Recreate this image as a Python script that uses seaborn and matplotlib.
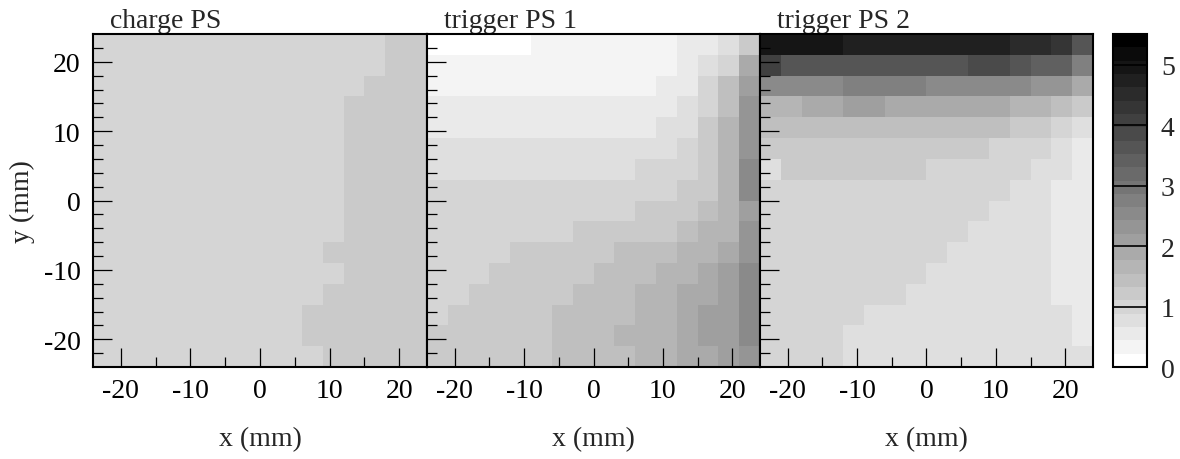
import numpy as np
import pandas as pd
import matplotlib
matplotlib.use("Agg")
import matplotlib.pyplot as plt
from matplotlib.colors import ListedColormap, BoundaryNorm
import seaborn as sns

# ---------------- data ----------------
# bin edges (mm); rows are listed from the top (y = 24) to the bottom (y = -24)
x_edges = [-24, -21, -18, -15, -12, -9, -6, -3, 0, 3, 6, 9, 12, 15, 18, 21, 24]
y_edges = [24, 21, 18, 15, 12, 9, 6, 3, 0, -3, -6, -9, -12, -15, -18, -21, -24]

titles = ["charge PS", "trigger PS 1", "trigger PS 2"]

charge_ps = [
    [1.0, 1.0, 1.0, 1.0, 1.0, 1.0, 1.0, 1.0, 1.0, 1.0, 1.0, 1.0, 1.0, 1.0, 1.2, 1.2],
    [1.0, 1.0, 1.0, 1.0, 1.0, 1.0, 1.0, 1.0, 1.0, 1.0, 1.0, 1.0, 1.0, 1.0, 1.2, 1.2],
    [1.0, 1.0, 1.0, 1.0, 1.0, 1.0, 1.0, 1.0, 1.0, 1.0, 1.0, 1.0, 1.0, 1.2, 1.2, 1.2],
    [1.0, 1.0, 1.0, 1.0, 1.0, 1.0, 1.0, 1.0, 1.0, 1.0, 1.0, 1.0, 1.2, 1.2, 1.2, 1.2],
    [1.0, 1.0, 1.0, 1.0, 1.0, 1.0, 1.0, 1.0, 1.0, 1.0, 1.0, 1.0, 1.2, 1.2, 1.2, 1.2],
    [1.0, 1.0, 1.0, 1.0, 1.0, 1.0, 1.0, 1.0, 1.0, 1.0, 1.0, 1.0, 1.2, 1.2, 1.2, 1.2],
    [1.0, 1.0, 1.0, 1.0, 1.0, 1.0, 1.0, 1.0, 1.0, 1.0, 1.0, 1.0, 1.2, 1.2, 1.2, 1.2],
    [1.0, 1.0, 1.0, 1.0, 1.0, 1.0, 1.0, 1.0, 1.0, 1.0, 1.0, 1.0, 1.2, 1.2, 1.2, 1.2],
    [1.0, 1.0, 1.0, 1.0, 1.0, 1.0, 1.0, 1.0, 1.0, 1.0, 1.0, 1.0, 1.2, 1.2, 1.2, 1.2],
    [1.0, 1.0, 1.0, 1.0, 1.0, 1.0, 1.0, 1.0, 1.0, 1.0, 1.0, 1.0, 1.2, 1.2, 1.2, 1.2],
    [1.0, 1.0, 1.0, 1.0, 1.0, 1.0, 1.0, 1.0, 1.0, 1.0, 1.0, 1.2, 1.2, 1.2, 1.2, 1.2],
    [1.0, 1.0, 1.0, 1.0, 1.0, 1.0, 1.0, 1.0, 1.0, 1.0, 1.0, 1.0, 1.2, 1.2, 1.2, 1.2],
    [1.0, 1.0, 1.0, 1.0, 1.0, 1.0, 1.0, 1.0, 1.0, 1.0, 1.0, 1.2, 1.2, 1.2, 1.2, 1.2],
    [1.0, 1.0, 1.0, 1.0, 1.0, 1.0, 1.0, 1.0, 1.0, 1.0, 1.2, 1.2, 1.2, 1.2, 1.2, 1.2],
    [1.0, 1.0, 1.0, 1.0, 1.0, 1.0, 1.0, 1.0, 1.0, 1.0, 1.2, 1.2, 1.2, 1.2, 1.2, 1.2],
    [1.0, 1.0, 1.0, 1.0, 1.0, 1.0, 1.0, 1.0, 1.0, 1.0, 1.0, 1.2, 1.2, 1.2, 1.2, 1.2],
]

trigger_ps1 = [
    [0.1, 0.1, 0.1, 0.1, 0.1, 0.3, 0.3, 0.3, 0.3, 0.3, 0.3, 0.3, 0.55, 0.55, 0.75, 1.2],
    [0.3, 0.3, 0.3, 0.3, 0.3, 0.3, 0.3, 0.3, 0.3, 0.3, 0.3, 0.3, 0.55, 0.75, 1.0, 1.85],
    [0.3, 0.3, 0.3, 0.3, 0.3, 0.3, 0.3, 0.3, 0.3, 0.3, 0.3, 0.55, 0.55, 1.0, 1.45, 2.1],
    [0.55, 0.55, 0.55, 0.55, 0.55, 0.55, 0.55, 0.55, 0.55, 0.55, 0.55, 0.55, 0.75, 1.0, 1.45, 2.3],
    [0.55, 0.55, 0.55, 0.55, 0.55, 0.55, 0.55, 0.55, 0.55, 0.55, 0.55, 0.75, 0.75, 1.2, 1.65, 2.3],
    [0.75, 0.75, 0.75, 0.75, 0.75, 0.75, 0.75, 0.75, 0.75, 0.75, 0.75, 0.75, 1.0, 1.2, 1.65, 2.3],
    [0.75, 0.75, 0.75, 0.75, 0.75, 0.75, 0.75, 0.75, 0.75, 0.75, 1.0, 1.0, 1.0, 1.2, 1.65, 2.55],
    [1.0, 1.0, 1.0, 1.0, 1.0, 1.0, 1.0, 1.0, 1.0, 1.0, 1.0, 1.0, 1.2, 1.2, 1.65, 2.55],
    [1.0, 1.0, 1.0, 1.0, 1.0, 1.0, 1.0, 1.0, 1.0, 1.0, 1.2, 1.2, 1.2, 1.45, 1.65, 2.1],
    [1.0, 1.0, 1.0, 1.0, 1.0, 1.0, 1.0, 1.2, 1.2, 1.2, 1.2, 1.2, 1.45, 1.65, 1.65, 2.3],
    [1.0, 1.0, 1.0, 1.0, 1.2, 1.2, 1.2, 1.2, 1.2, 1.45, 1.45, 1.45, 1.65, 1.65, 1.85, 2.3],
    [1.0, 1.0, 1.0, 1.2, 1.2, 1.2, 1.2, 1.2, 1.45, 1.45, 1.45, 1.65, 1.65, 1.85, 2.1, 2.55],
    [1.0, 1.0, 1.2, 1.2, 1.2, 1.2, 1.2, 1.45, 1.45, 1.45, 1.65, 1.65, 1.85, 1.85, 2.1, 2.55],
    [1.0, 1.2, 1.2, 1.2, 1.2, 1.2, 1.45, 1.45, 1.45, 1.45, 1.65, 1.65, 1.85, 2.1, 2.1, 2.55],
    [1.2, 1.2, 1.2, 1.2, 1.2, 1.2, 1.45, 1.45, 1.45, 1.65, 1.65, 1.65, 1.85, 2.1, 2.1, 2.55],
    [1.2, 1.2, 1.2, 1.2, 1.2, 1.2, 1.45, 1.45, 1.45, 1.45, 1.65, 1.65, 1.85, 1.85, 2.1, 2.3],
]

trigger_ps2 = [
    [4.95, 4.95, 4.95, 4.95, 4.75, 4.75, 4.75, 4.75, 4.75, 4.75, 4.75, 4.75, 4.5, 4.5, 4.3, 3.65],
    [4.1, 3.65, 3.65, 3.65, 3.65, 3.65, 3.65, 3.65, 3.65, 3.65, 3.85, 3.85, 3.65, 3.4, 3.4, 2.75],
    [2.55, 2.55, 2.55, 2.55, 2.75, 2.75, 2.75, 2.75, 2.55, 2.55, 2.55, 2.55, 2.55, 2.3, 2.3, 1.85],
    [1.65, 1.65, 1.85, 1.85, 2.1, 2.1, 1.85, 1.85, 1.85, 1.85, 1.85, 1.85, 1.65, 1.65, 1.45, 1.2],
    [1.45, 1.45, 1.45, 1.45, 1.45, 1.45, 1.45, 1.45, 1.45, 1.45, 1.45, 1.45, 1.2, 1.2, 1.0, 0.75],
    [1.2, 1.2, 1.2, 1.2, 1.2, 1.2, 1.2, 1.2, 1.2, 1.2, 1.2, 1.0, 1.0, 1.0, 0.75, 0.55],
    [0.75, 1.2, 1.2, 1.2, 1.2, 1.2, 1.2, 1.2, 1.0, 1.0, 1.0, 1.0, 1.0, 0.75, 0.75, 0.55],
    [1.0, 1.0, 1.0, 1.0, 1.0, 1.0, 1.0, 1.0, 1.0, 1.0, 1.0, 1.0, 0.75, 0.75, 0.55, 0.55],
    [1.0, 1.0, 1.0, 1.0, 1.0, 1.0, 1.0, 1.0, 1.0, 1.0, 1.0, 0.75, 0.75, 0.75, 0.55, 0.55],
    [1.0, 1.0, 1.0, 1.0, 1.0, 1.0, 1.0, 1.0, 1.0, 1.0, 0.75, 0.75, 0.75, 0.75, 0.55, 0.55],
    [1.0, 1.0, 1.0, 1.0, 1.0, 1.0, 1.0, 1.0, 1.0, 0.75, 0.75, 0.75, 0.75, 0.75, 0.55, 0.55],
    [1.0, 1.0, 1.0, 1.0, 1.0, 1.0, 1.0, 1.0, 0.75, 0.75, 0.75, 0.75, 0.75, 0.75, 0.55, 0.55],
    [1.0, 1.0, 1.0, 1.0, 1.0, 1.0, 1.0, 0.75, 0.75, 0.75, 0.75, 0.75, 0.75, 0.75, 0.55, 0.55],
    [1.0, 1.0, 1.0, 1.0, 1.0, 0.75, 0.75, 0.75, 0.75, 0.75, 0.75, 0.75, 0.75, 0.75, 0.75, 0.55],
    [1.0, 1.0, 1.0, 1.0, 0.75, 0.75, 0.75, 0.75, 0.75, 0.75, 0.75, 0.75, 0.75, 0.75, 0.75, 0.55],
    [1.0, 1.0, 1.0, 1.0, 0.75, 0.75, 0.75, 0.75, 0.75, 0.75, 0.75, 0.75, 0.75, 0.75, 0.75, 0.75],
]

x_major = [-20, -10, 0, 10, 20]
x_minor = [-15, -5, 5, 15]
y_major = [-20, -10, 0, 10, 20]
y_minor = [-22, -18, -16, -14, -12, -8, -6, -4, -2, 2, 4, 6, 8, 12, 14, 16, 18, 22]
z_ticks = [0, 1, 2, 3, 4, 5]
z_max = 5.51
n_levels = 25

# ---------------- style ----------------
sns.set_style("white")
plt.rcParams["font.family"] = ["Liberation Serif", "DejaVu Serif"]
plt.rcParams["font.size"] = 20
plt.rcParams["axes.axisbelow"] = False

fig = plt.figure(figsize=(11.8, 4.6), dpi=100)
W, H = 1180.0, 460.0


def px_axes(l, t, r, b):
    return fig.add_axes([l / W, 1 - b / H, (r - l) / W, (b - t) / H])


axes = [px_axes(93, 35, 427, 368), px_axes(427, 35, 760, 368), px_axes(760, 35, 1093, 368)]
cax = px_axes(1113, 35, 1147, 368)

levels = np.linspace(0, z_max, n_levels + 1)
grays = np.linspace(1.0, 0.0, n_levels)
cmap = ListedColormap([(g, g, g) for g in grays])
norm = BoundaryNorm(levels, cmap.N)

x_centers = [(a + b) / 2 for a, b in zip(x_edges[:-1], x_edges[1:])]
y_centers = [(a + b) / 2 for a, b in zip(y_edges[:-1], y_edges[1:])]
bw = x_edges[1] - x_edges[0]


def xpos(v):
    return [(x - x_edges[0]) / bw for x in v]


def ypos(v):
    return [(y_edges[0] - y) / bw for y in v]


datasets = [charge_ps, trigger_ps1, trigger_ps2]
for i, (ax, data, title) in enumerate(zip(axes, datasets, titles)):
    df = pd.DataFrame(data, index=y_centers, columns=x_centers)
    last = i == 2
    sns.heatmap(df, ax=ax, cmap=cmap, norm=norm, cbar=last,
                cbar_ax=cax if last else None,
                xticklabels=False, yticklabels=False, linewidths=0)
    ax.set_axisbelow(False)
    for sp in ax.spines.values():
        sp.set_visible(True)
        sp.set_linewidth(1.5)
        sp.set_color("black")
        sp.set_zorder(5)
    ax.set_xticks(xpos(x_major))
    ax.set_xticklabels([str(v) for v in x_major])
    ax.set_xticks(xpos(x_minor), minor=True)
    ax.set_yticks(ypos(y_major))
    ax.set_yticklabels([str(v) for v in y_major])
    ax.set_yticks(ypos(y_minor), minor=True)
    ax.tick_params(which="both", direction="in", top=False, right=False,
                   left=True, bottom=True, color="black", width=0.9,
                   labelsize=20, labelcolor="black")
    ax.tick_params(axis="x", which="major", length=14, pad=8)
    ax.tick_params(axis="x", which="minor", length=7)
    ax.tick_params(axis="y", which="major", length=14, pad=9)
    ax.tick_params(axis="y", which="minor", length=7)
    ax.tick_params(axis="x", labelrotation=0)
    ax.tick_params(axis="y", labelrotation=0)
    if i > 0:
        ax.tick_params(axis="y", labelleft=False)
    ax.set_xlabel("")
    ax.set_ylabel("")
    ax.text(0.05, 1.021, title, transform=ax.transAxes, ha="left",
            va="baseline", fontsize=20)
    ax.text(0.5, -0.216, "x (mm)", transform=ax.transAxes, ha="center",
            va="center", fontsize=20)

axes[0].text(-0.2126, 0.5, "y (mm)", transform=axes[0].transAxes, rotation=90,
             ha="center", va="center", fontsize=20)

cb = axes[2].collections[0].colorbar
cb.set_ticks(z_ticks)
cb.set_ticklabels([str(v) for v in z_ticks])
cb.outline.set_linewidth(1.5)
cb.outline.set_edgecolor("black")
cax.set_axisbelow(False)
cax.tick_params(which="major", direction="in", length=24.5, width=1.2,
                color="black", pad=10, labelsize=20, right=True, left=False)
cax.tick_params(which="minor", length=0)

fig.savefig("out.png", dpi=100)
